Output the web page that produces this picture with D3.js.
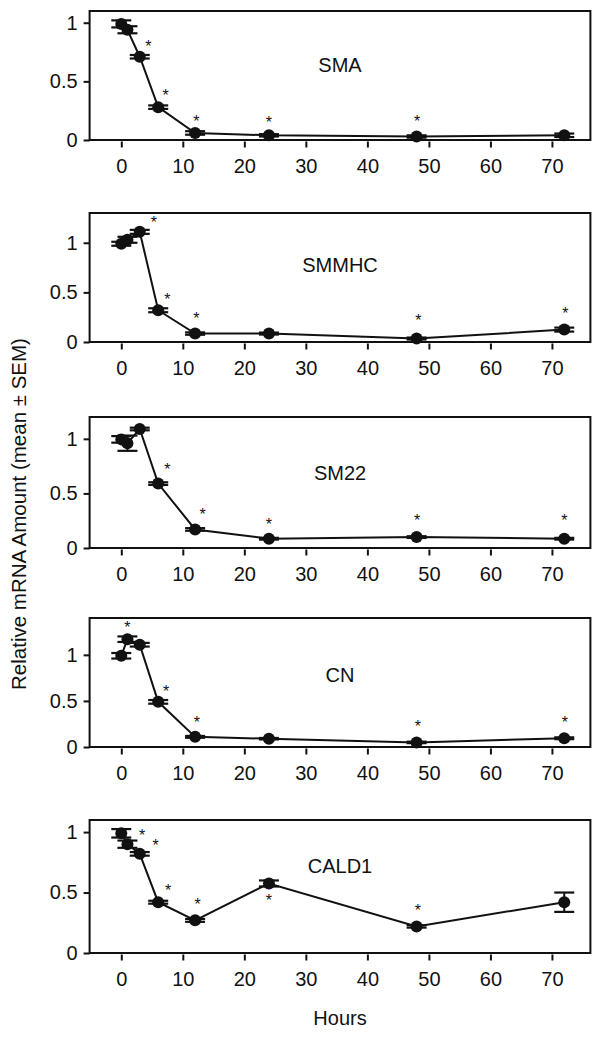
<!DOCTYPE html>
<html>
<head>
<meta charset="utf-8">
<script src="https://cdn.jsdelivr.net/npm/d3@7"></script>
<style>
  html, body { margin: 0; padding: 0; background: #fff; }
  svg { display: block; }
  text { font-family: "Liberation Sans", Arial, Helvetica, sans-serif; fill: #111; }
</style>
</head>
<body>
<svg id="chart" width="602" height="1050"></svg>
<script>
// ---------------- data ----------------
const hours = [0, 1, 3, 6, 12, 24, 48, 72];
const xTicks = [0, 10, 20, 30, 40, 50, 60, 70];
const yTicks = [0, 0.5, 1];
const geneNames = ["SMA", "SMMHC", "SM22", "CN", "CALD1"];
const yMax = [1.1, 1.3, 1.2, 1.4, 1.1];

const smaMean   = [0.99, 0.94, 0.71, 0.28, 0.06, 0.04, 0.03, 0.04];
const smaSem    = [0.03, 0.03, 0.015, 0.015, 0.015, 0.01, 0.01, 0.015];
const smaStars  = [[4.4, 0.83], [7.2, 0.41], [12.2, 0.19], [24, 0.18], [48.1, 0.19]];

const smmhcMean  = [0.99, 1.03, 1.11, 0.32, 0.085, 0.085, 0.035, 0.125];
const smmhcSem   = [0.02, 0.03, 0.02, 0.02, 0.012, 0.01, 0.01, 0.02];
const smmhcStars = [[5.3, 1.24], [7.5, 0.46], [12.2, 0.27], [48.3, 0.25], [72.2, 0.32]];

const sm22Mean  = [0.995, 0.96, 1.09, 0.59, 0.17, 0.085, 0.10, 0.085];
const sm22Sem   = [0.03, 0.07, 0.012, 0.012, 0.012, 0.008, 0.008, 0.008];
const sm22Stars = [[7.5, 0.75], [13.2, 0.34], [24, 0.25], [48.1, 0.28], [72, 0.28]];

const cnMean  = [0.99, 1.17, 1.11, 0.49, 0.11, 0.09, 0.05, 0.095];
const cnSem   = [0.03, 0.03, 0.02, 0.02, 0.01, 0.008, 0.008, 0.01];
const cnStars = [[1.0, 1.33], [7.3, 0.64], [12.3, 0.30], [48.2, 0.26], [72.1, 0.30]];

const cald1Mean  = [0.99, 0.90, 0.82, 0.42, 0.27, 0.575, 0.22, 0.42];
const cald1Sem   = [0.035, 0.03, 0.015, 0.012, 0.012, 0.025, 0.01, 0.08];
const cald1Stars = [[3.4, 1.0], [5.6, 0.92], [7.6, 0.55], [12.4, 0.43], [24, 0.465], [48.2, 0.38]];

const yLabel = "Relative mRNA Amount (mean \u00B1 SEM)";
const xLabel = "Hours";

const series = [
  { name: geneNames[0], mean: smaMean,   sem: smaSem,   stars: smaStars,   yMax: yMax[0] },
  { name: geneNames[1], mean: smmhcMean, sem: smmhcSem, stars: smmhcStars, yMax: yMax[1] },
  { name: geneNames[2], mean: sm22Mean,  sem: sm22Sem,  stars: sm22Stars,  yMax: yMax[2] },
  { name: geneNames[3], mean: cnMean,    sem: cnSem,    stars: cnStars,    yMax: yMax[3] },
  { name: geneNames[4], mean: cald1Mean, sem: cald1Sem, stars: cald1Stars, yMax: yMax[4] }
];

// ---------------- layout ----------------
const left = 89.6, right = 590.4;
const panelTops = [11, 213, 417, 618, 820];
const panelHs = [129, 129, 131, 129, 133];
const titleDy = [54, 52, 56, 57, 46];
const fontSize = 20;

const svg = d3.select("#chart");
const x = d3.scaleLinear().domain([-5.15, 76.25]).range([left, right]);

series.forEach((s, i) => {
  const top = panelTops[i], bottom = top + panelHs[i];
  const y = d3.scaleLinear().domain([0, s.yMax]).range([bottom, top]);
  const g = svg.append("g");

  // x axis
  const xAxis = g.append("g")
    .attr("transform", `translate(0,${bottom + 1.5})`)
    .call(d3.axisBottom(x).tickValues(xTicks).tickSize(6).tickPadding(11).tickFormat(d3.format("d")));
  xAxis.select(".domain").remove();
  xAxis.selectAll("line").attr("stroke", "#111").attr("stroke-width", 2);
  xAxis.selectAll("text").attr("font-size", fontSize).attr("fill", "#111");

  // y axis
  const yAxis = g.append("g")
    .attr("transform", `translate(${left},0)`)
    .call(d3.axisLeft(y).tickValues(yTicks).tickSize(6).tickPadding(6)
      .tickFormat(d => d === 0 ? "0" : d === 1 ? "1" : "0.5"));
  yAxis.select(".domain").remove();
  yAxis.selectAll("line").attr("stroke", "#111").attr("stroke-width", 2);
  yAxis.selectAll("text").attr("font-size", fontSize).attr("fill", "#111");

  // frame
  g.append("rect")
    .attr("x", left).attr("y", top)
    .attr("width", right - left).attr("height", bottom - top)
    .attr("fill", "none").attr("stroke", "#111").attr("stroke-width", 2);

  const pts = hours.map((h, k) => ({ h, m: s.mean[k], e: s.sem[k] }));

  // line
  g.append("path")
    .datum(pts)
    .attr("fill", "none").attr("stroke", "#111").attr("stroke-width", 2)
    .attr("d", d3.line().x(d => x(d.h)).y(d => y(d.m)));

  // error bars
  const eb = g.selectAll(".eb").data(pts).enter().append("g");
  eb.append("line")
    .attr("x1", d => x(d.h)).attr("x2", d => x(d.h))
    .attr("y1", d => y(d.m - d.e)).attr("y2", d => y(d.m + d.e))
    .attr("stroke", "#111").attr("stroke-width", 2);
  [-1, 1].forEach(sign => {
    eb.append("line")
      .attr("x1", d => x(d.h) - 10).attr("x2", d => x(d.h) + 10)
      .attr("y1", d => y(d.m + sign * d.e)).attr("y2", d => y(d.m + sign * d.e))
      .attr("stroke", "#111").attr("stroke-width", 2.2);
  });

  // points
  g.selectAll(".pt").data(pts).enter().append("circle")
    .attr("cx", d => x(d.h)).attr("cy", d => y(d.m)).attr("r", 6)
    .attr("fill", "#111");

  // significance stars
  g.selectAll(".star").data(s.stars).enter().append("text")
    .attr("x", d => x(d[0])).attr("y", d => y(d[1]) + 9)
    .attr("text-anchor", "middle").attr("font-size", 16)
    .text("*");

  // title
  g.append("text")
    .attr("x", (left + right) / 2).attr("y", top + titleDy[i])
    .attr("dy", "0.35em")
    .attr("text-anchor", "middle").attr("font-size", fontSize)
    .text(s.name);
});

// axis titles
svg.append("text")
  .attr("transform", `translate(19,514) rotate(-90)`)
  .attr("text-anchor", "middle").attr("dy", "0.35em")
  .attr("font-size", 20.5)
  .text(yLabel);

svg.append("text")
  .attr("x", (left + right) / 2).attr("y", 1018)
  .attr("text-anchor", "middle").attr("dy", "0.35em")
  .attr("font-size", fontSize)
  .text(xLabel);
</script>
</body>
</html>
